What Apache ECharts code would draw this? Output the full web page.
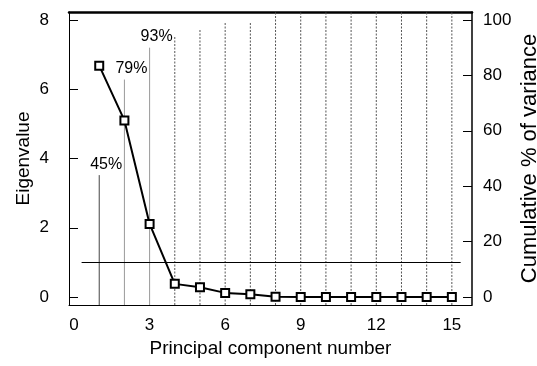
<!DOCTYPE html>
<html>
<head>
<meta charset="utf-8">
<script src="https://cdn.jsdelivr.net/npm/echarts@6/dist/echarts.min.js"></script>
<style>
  html, body { margin: 0; padding: 0; background: #fff; }
  #chart { width: 537px; height: 366px; }
</style>
</head>
<body>
<div id="chart"></div>
<script>
// data
var components = [1, 2, 3, 4, 5, 6, 7, 8, 9, 10, 11, 12, 13, 14, 15]
var eigenvalues = [6.68, 5.1, 2.11, 0.38, 0.28, 0.12, 0.08, 0.01, 0.0, 0.0, 0.0, 0.0, 0.0, 0.0, 0.0]
// cumulative % of variance (height of the vertical stems)
var cumulative = [44, 78.5, 90, 94.3, 96.8, 99, 99.3, 100, 100, 100, 100, 100, 100, 100, 100]
var stemLabels = ['45%', '79%', '93%']
var xTicks = [0, 3, 6, 9, 12, 15]
var leftTicks = [0, 2, 4, 6, 8]
var rightTicks = [0, 20, 40, 60, 80, 100]
var kaiserLine = 1

var font = "'Liberation Sans', Arial, sans-serif"
var chart = echarts.init(document.getElementById('chart'))

var stemData = components.map(function (c, i) {
  return [c, cumulative[i], i]
})

chart.setOption({
  animation: false,
  grid: { left: 69, right: 65, top: 12, bottom: 61, outerBoundsMode: 'none', containLabel: false },
  xAxis: [
    {
      type: 'value',
      min: -0.2,
      max: 15.8,
      name: 'Principal component number',
      nameLocation: 'middle',
      nameGap: 34,
      nameTextStyle: { fontFamily: font, fontSize: 19, color: '#000' },
      axisLine: { show: true, onZero: false, lineStyle: { color: '#000', width: 1 } },
      axisTick: { show: false },
      splitLine: { show: false },
      axisLabel: {
        customValues: xTicks,
        hideOverlap: false,
        fontFamily: font, fontSize: 17, color: '#000', margin: 12
      }
    },
    {
      type: 'value',
      position: 'top',
      min: -0.2,
      max: 15.8,
      axisLine: { show: true, onZero: false, lineStyle: { color: '#000', width: 2.5 } },
      axisTick: { show: false },
      axisLabel: { show: false },
      splitLine: { show: false }
    }
  ],
  yAxis: [
    {
      type: 'value',
      min: -0.23,
      max: 8.23,
      name: 'Eigenvalue',
      nameLocation: 'middle',
      nameGap: 36,
      nameMoveOverlap: false,
      nameTextStyle: { fontFamily: font, fontSize: 19, color: '#000' },
      axisLine: { show: true, onZero: false, lineStyle: { color: '#000', width: 1 } },
      axisTick: { show: true, inside: true, length: 9, customValues: leftTicks, lineStyle: { color: '#000' } },
      splitLine: { show: false },
      axisLabel: { customValues: leftTicks, fontFamily: font, fontSize: 17, color: '#000', margin: 20 }
    },
    {
      type: 'value',
      position: 'right',
      min: -2.875,
      max: 102.875,
      name: 'Cumulative % of variance',
      nameLocation: 'middle',
      nameGap: 47,
      nameMoveOverlap: false,
      nameTextStyle: { fontFamily: font, fontSize: 22, color: '#000' },
      axisLine: { show: true, onZero: false, lineStyle: { color: '#000', width: 1.5 } },
      axisTick: { show: true, inside: true, length: 9, customValues: rightTicks, lineStyle: { color: '#000' } },
      splitLine: { show: false },
      axisLabel: { customValues: rightTicks, fontFamily: font, fontSize: 17, color: '#000', margin: 11 }
    }
  ],
  series: [
    {
      type: 'custom',
      xAxisIndex: 0,
      yAxisIndex: 1,
      z: 1,
      data: stemData,
      renderItem: function (params, api) {
        var idx = api.value(2)
        var pct = api.value(1)
        var pt = api.coord([api.value(0), pct])
        var cs = params.coordSys
        var bottom = cs.y + cs.height
        var top = pct >= 100 ? cs.y : pt[1]
        var solid = idx < 3
        var children = [{
          type: 'line',
          shape: { x1: pt[0], y1: bottom, x2: pt[0], y2: top },
          style: {
            stroke: idx === 0 ? '#444' : (solid ? '#999' : '#555'),
            lineWidth: 1,
            lineDash: solid ? null : [2, 1.5]
          }
        }]
        if (stemLabels[idx]) {
          children.push({
            type: 'text',
            style: {
              x: pt[0] + 7, y: top - 11,
              text: stemLabels[idx],
              fill: '#000',
              fontFamily: font,
              fontSize: 16,
              align: 'center', verticalAlign: 'middle'
            }
          })
        }
        return { type: 'group', children: children }
      }
    },
    {
      type: 'line',
      xAxisIndex: 0,
      yAxisIndex: 0,
      z: 5,
      data: components.map(function (c, i) { return [c, eigenvalues[i]] }),
      symbol: 'rect',
      symbolSize: 8,
      itemStyle: { color: '#fff', borderColor: '#000', borderWidth: 2 },
      lineStyle: { color: '#000', width: 2 },
      markLine: {
        silent: true,
        symbol: 'none',
        label: { show: false },
        lineStyle: { color: '#000', width: 1, type: 'solid' },
        data: [[{ coord: [0.3, kaiserLine] }, { coord: [15.35, kaiserLine] }]]
      }
    }
  ]
})
</script>
</body>
</html>
